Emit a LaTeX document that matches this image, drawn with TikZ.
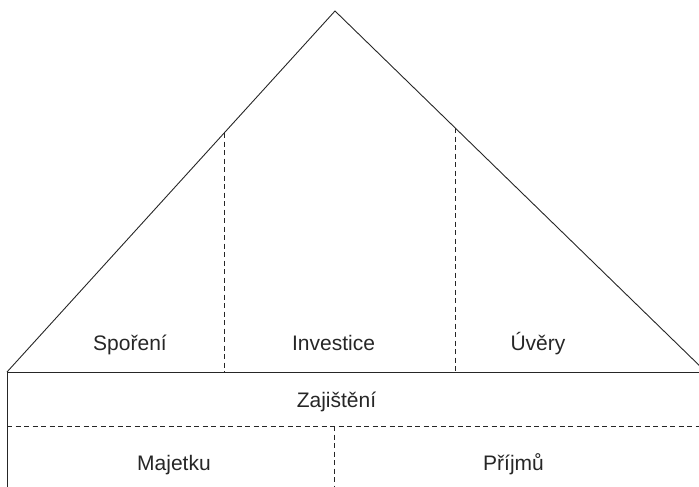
\documentclass[tikz,border=0pt]{standalone}
\usepackage{fontspec}
\setmainfont{Liberation Sans}
\usetikzlibrary{calc}
\begin{document}
\begin{tikzpicture}[x=1pt,y=-1pt,
  solidline/.style={line width=0.9pt,draw=black!85},
  dashline/.style={line width=0.8pt,draw=black!85,dash pattern=on 5pt off 3.5pt},
  lbl/.style={anchor=base,inner sep=0pt,font=\fontsize{21}{25}\selectfont,text=black!85}]
\useasboundingbox (0,0) rectangle (699,487);
\clip (0,0) rectangle (699,487);
\coordinate (apex) at (335,11);
\coordinate (bl) at (7,372);
\coordinate (br) at (706,372);
\coordinate (hr) at (699,372);
\coordinate (bot) at (7,487);
\coordinate (ml) at (7,426);
\coordinate (mr) at (699,426);
\coordinate (mc) at (334,426);
\coordinate (mcb) at (334,487);
\coordinate (d1t) at (224,133);
\coordinate (d1b) at (224,372);
\coordinate (d2t) at (455,128);
\coordinate (d2b) at (455,372);
\draw[solidline] (bl) -- (apex) -- (br);
\draw[solidline] (bl) -- (hr);
\draw[solidline] (bl) -- (bot);
\draw[dashline] (ml) -- (mr);
\draw[dashline] (mc) -- (mcb);
\draw[dashline] (d1t) -- (d1b);
\draw[dashline] (d2t) -- (d2b);
\node[lbl] (sporeni) at (130,350) {Spoření};
\node[lbl] (investice) at (333.5,350) {Investice};
\node[lbl] (uvery) at (538,350) {Úvěry};
\node[lbl] (zajisteni) at (336.5,407) {Zajištění};
\node[lbl] (majetku) at (174,470) {Majetku};
\node[lbl] (prijmu) at (513.5,470) {Příjmů};
\end{tikzpicture}
\end{document}
